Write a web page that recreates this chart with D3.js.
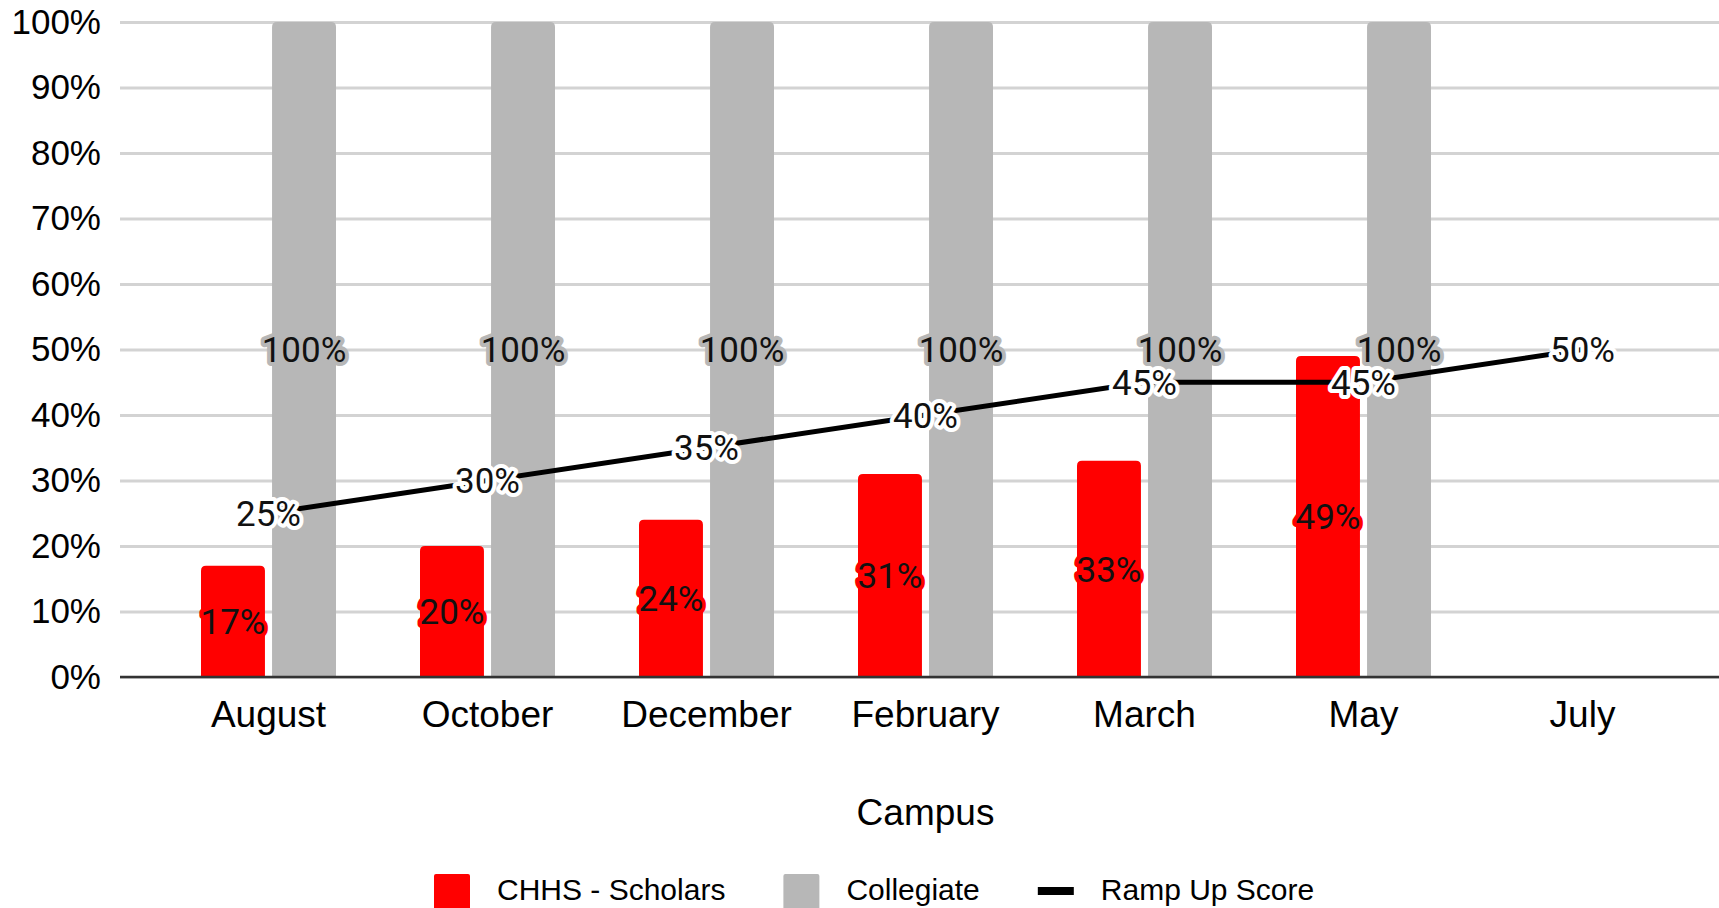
<!DOCTYPE html>
<html>
<head>
<meta charset="utf-8">
<script src="https://cdn.jsdelivr.net/npm/d3@7"></script>
<style>
  html, body { margin: 0; padding: 0; background: #fff; }
  svg { display: block; font-family: "Liberation Sans", Arial, sans-serif; }
</style>
</head>
<body>
<div id="chart"></div>
<script>
// ======= data =======
var months = ["August", "October", "December", "February", "March", "May", "July"];
var scholars = [17, 20, 24, 31, 33, 49, null];
var collegiate = [100, 100, 100, 100, 100, 100, null];
var rampUp = [25, 30, 35, 40, 45, 45, 50];
var yTicks = [0, 10, 20, 30, 40, 50, 60, 70, 80, 90, 100];
var seriesNames = ["CHHS - Scholars", "Collegiate", "Ramp Up Score"];

// ======= formatting =======
var width = 1719, height = 908;
var redColor = "#ff0000", grayColor = "#b7b7b7";
var plotLeft = 120, plotTop = 22, plotBottom = 677;

var svg = d3.select("#chart").append("svg")
    .attr("width", width)
    .attr("height", height);

// ======= scales =======
var x = d3.scaleBand()
    .domain(months)
    .range([159, 1692]);
var xSub = d3.scaleBand()
    .domain(["red", "gray"])
    .range([-67.5, 67.5])
    .paddingInner(0.1);
var y = d3.scaleLinear()
    .domain([0, 100])
    .range([plotBottom, plotTop]);

function cx(m) { return x(m) + x.bandwidth() / 2; }

// ======= grid + y axis =======
var yAxis = svg.append("g")
    .attr("transform", "translate(" + plotLeft + ",0)")
    .call(d3.axisLeft(y)
        .tickValues(yTicks)
        .tickSize(-(width - plotLeft))
        .tickPadding(19)
        .tickFormat(function(d) { return d + "%"; }));
yAxis.select(".domain").remove();
yAxis.selectAll(".tick line")
    .attr("stroke", "#d3d3d3")
    .attr("stroke-width", 3);
yAxis.selectAll(".tick text")
    .attr("fill", "#000")
    .style("font-size", "35px");

// ======= bars =======
function topRoundedRect(x0, y0, w, h, r) {
    r = Math.min(r, h);
    return "M" + x0 + "," + (y0 + h) +
        "V" + (y0 + r) +
        "Q" + x0 + "," + y0 + " " + (x0 + r) + "," + y0 +
        "H" + (x0 + w - r) +
        "Q" + (x0 + w) + "," + y0 + " " + (x0 + w) + "," + (y0 + r) +
        "V" + (y0 + h) + "Z";
}

var barData = [];
months.forEach(function(m, i) {
    if (scholars[i] != null) barData.push({month: m, key: "red", value: scholars[i], color: redColor});
    if (collegiate[i] != null) barData.push({month: m, key: "gray", value: collegiate[i], color: grayColor});
});

svg.append("g").selectAll("path")
    .data(barData)
    .enter()
    .append("path")
        .attr("fill", function(d) { return d.color; })
        .attr("d", function(d) {
            var x0 = cx(d.month) + xSub(d.key);
            return topRoundedRect(x0, y(d.value), xSub.bandwidth(), y(0) - y(d.value), 5);
        });

// ======= zero axis =======
svg.append("line")
    .attr("x1", plotLeft).attr("x2", width)
    .attr("y1", y(0)).attr("y2", y(0))
    .attr("stroke", "#333")
    .attr("stroke-width", 2.5);

// ======= bar labels =======
svg.append("g").selectAll("text")
    .data(barData)
    .enter()
    .append("text")
        .attr("x", function(d) { return cx(d.month) + xSub(d.key) + xSub.bandwidth() / 2; })
        .attr("y", function(d) { return y(d.value / 2); })
        .attr("dy", "0.36em")
        .attr("text-anchor", "middle")
        .style("font-family", "Roboto, sans-serif")
        .style("font-size", "35px")
        .attr("fill", "#111")
        .attr("stroke", function(d) { return d.color; })
        .attr("stroke-width", 8)
        .attr("stroke-linejoin", "round")
        .attr("paint-order", "stroke")
        .text(function(d) { return d.value + "%"; });

// ======= ramp up line =======
var line = d3.line()
    .x(function(d, i) { return cx(months[i]); })
    .y(function(d) { return y(d); });

svg.append("path")
    .datum(rampUp)
    .attr("fill", "none")
    .attr("stroke", "#000")
    .attr("stroke-width", 5)
    .attr("d", line);

svg.append("g").selectAll("text")
    .data(rampUp)
    .enter()
    .append("text")
        .attr("x", function(d, i) { return cx(months[i]); })
        .attr("y", function(d) { return y(d); })
        .attr("dy", "0.36em")
        .attr("text-anchor", "middle")
        .style("font-family", "Roboto, sans-serif")
        .style("font-size", "35px")
        .attr("fill", "#111")
        .attr("stroke", "#fff")
        .attr("stroke-width", 8)
        .attr("stroke-linejoin", "round")
        .attr("paint-order", "stroke")
        .text(function(d) { return d + "%"; });

// ======= x labels =======
svg.append("g").selectAll("text")
    .data(months)
    .enter()
    .append("text")
        .attr("x", function(d) { return cx(d); })
        .attr("y", 727)
        .attr("text-anchor", "middle")
        .style("font-size", "37px")
        .attr("fill", "#000")
        .text(function(d) { return d; });

svg.append("text")
    .attr("x", (cx(months[0]) + cx(months[months.length - 1])) / 2)
    .attr("y", 825)
    .attr("text-anchor", "middle")
    .style("font-size", "37px")
    .attr("fill", "#000")
    .text("Campus");

// ======= legend =======
var legendColors = [redColor, grayColor, "#000"];
var legend = svg.append("g");
var lx = 434;
seriesNames.forEach(function(name, i) {
    if (i < 2) {
        legend.append("rect")
            .attr("x", lx).attr("y", 874)
            .attr("width", 36).attr("height", 36)
            .attr("rx", 2)
            .attr("fill", legendColors[i]);
    } else {
        legend.append("rect")
            .attr("x", lx).attr("y", 887)
            .attr("width", 36).attr("height", 8)
            .attr("fill", legendColors[i]);
    }
    var t = legend.append("text")
        .attr("x", lx + 63)
        .attr("y", 900)
        .style("font-size", "30px")
        .attr("fill", "#000")
        .text(name);
    lx = lx + 63 + t.node().getComputedTextLength() + 58;
});
</script>
</body>
</html>
